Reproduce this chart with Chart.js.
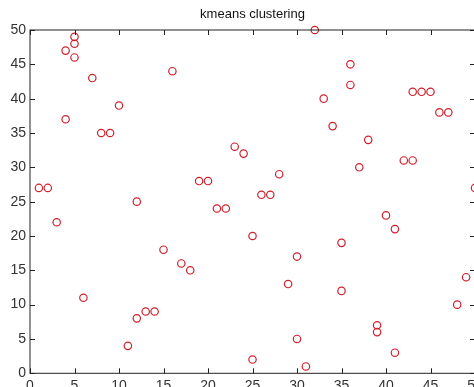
<!DOCTYPE html>
<html>
<head>
<meta charset="utf-8">
<script src="https://cdn.jsdelivr.net/npm/chart.js@4"></script>
<style>
  html, body { margin: 0; padding: 0; overflow: hidden; background: #fff; }
  canvas { display: block; }
</style>
</head>
<body>
<canvas id="kmeans-chart" width="490" height="400"></canvas>
<script>
// point data
var xs = [1,2,3,4,4,5,5,5,6,7,8,9,10,11,12,12,13,14,15,16,17,18,19,20,21,22,23,24,25,25,
          26,27,28,29,30,30,31,32,33,34,35,35,36,36,37,38,39,39,40,41,41,42,43,43,44,45,46,47,48,49,50];
var ys = [27,27,22,47,37,49,48,46,11,43,35,35,39,4,25,8,9,9,18,44,16,15,28,28,24,24,33,32,20,2,
          26,26,29,13,17,5,1,50,40,36,19,12,45,42,30,34,7,6,23,21,3,31,31,41,41,41,38,38,10,14,27];
var tickStep = 5;

var points = xs.map(function (x, i) { return { x: x, y: ys[i] }; });

// matlab style box with inward ticks
var boxPlugin = {
  id: 'box',
  afterDraw: function (chart) {
    var ctx = chart.ctx, a = chart.chartArea;
    var xs = chart.scales.x, ys = chart.scales.y;
    var len = 5;
    ctx.save();
    ctx.strokeStyle = '#222';
    ctx.lineWidth = 1;
    ctx.strokeRect(a.left, a.top, a.right - a.left, a.bottom - a.top);
    ctx.beginPath();
    xs.ticks.forEach(function (t) {
      var px = Math.round(xs.getPixelForValue(t.value)) + 0.5;
      ctx.moveTo(px, a.bottom); ctx.lineTo(px, a.bottom - len);
      ctx.moveTo(px, a.top); ctx.lineTo(px, a.top + len);
    });
    ys.ticks.forEach(function (t) {
      var py = Math.round(ys.getPixelForValue(t.value)) + 0.5;
      ctx.moveTo(a.left, py); ctx.lineTo(a.left + len, py);
      ctx.moveTo(a.right, py); ctx.lineTo(a.right - len, py);
    });
    ctx.stroke();
    ctx.restore();
  }
};

new Chart(document.getElementById('kmeans-chart'), {
  type: 'scatter',
  data: {
    datasets: [{
      data: points,
      borderColor: '#d0202c',
      backgroundColor: 'rgba(0,0,0,0)',
      pointRadius: 3.7,
      pointBorderWidth: 1.2,
      pointHoverRadius: 3.7,
      clip: false
    }]
  },
  plugins: [boxPlugin],
  options: {
    responsive: false,
    animation: false,
    devicePixelRatio: 1,
    layout: { padding: { left: 0, right: 15, top: 0, bottom: 0 } },
    plugins: {
      legend: { display: false },
      tooltip: { enabled: false },
      title: {
        display: true,
        text: 'kmeans clustering',
        fullSize: false,
        color: '#111',
        font: { family: '"Liberation Sans", Arial, sans-serif', size: 13, weight: 'normal' },
        padding: { top: 7, bottom: 7.4 }
      }
    },
    scales: {
      x: {
        type: 'linear',
        min: 0, max: 50,
        grid: { display: false, drawTicks: false },
        border: { display: false },
        ticks: {
          stepSize: tickStep,
          padding: 4,
          color: '#333',
          maxRotation: 0,
          font: { family: '"Liberation Sans", Arial, sans-serif', size: 14 }
        },
        afterFit: function (scale) { scale.height = 26.7; }
      },
      y: {
        type: 'linear',
        min: 0, max: 50,
        grid: { display: false, drawTicks: false },
        border: { display: false },
        ticks: {
          stepSize: tickStep,
          padding: 4,
          color: '#333',
          font: { family: '"Liberation Sans", Arial, sans-serif', size: 14 }
        },
        afterFit: function (scale) { scale.width = 30; }
      }
    }
  }
});
</script>
</body>
</html>
